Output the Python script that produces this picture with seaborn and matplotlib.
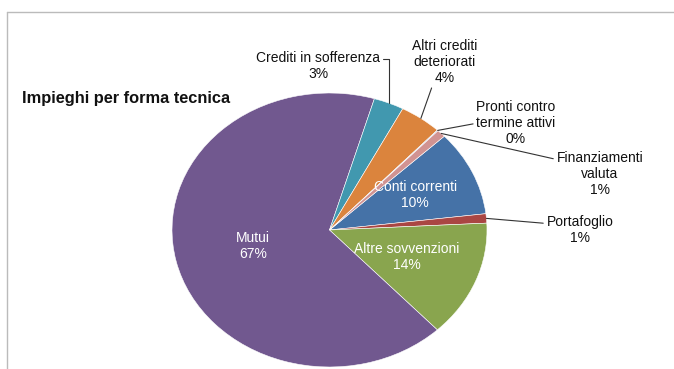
import numpy as np
import matplotlib
matplotlib.use("Agg")
import matplotlib.pyplot as plt
from matplotlib.lines import Line2D
import seaborn as sns

# ---- data ----
categories = ["Conti correnti", "Portafoglio", "Altre sovvenzioni", "Mutui",
              "Crediti in sofferenza", "Altri crediti\ndeteriorati",
              "Pronti contro\ntermine attivi", "Finanziamenti\nvaluta"]
values = [10.1, 1.1, 13.8, 66.6, 3.1, 4.3, 0.1, 0.9]
colors_hex = ["#4572A7", "#AA4643", "#89A54E", "#71588F",
              "#4198AF", "#DB843D", "#93A9CF", "#D19392"]
inside = [True, False, True, True, False, False, False, False]
title = "Impieghi per forma tecnica"

# ---- layout ----
inside_radius = {0: 0.6, 2: 0.53, 3: 0.5}
outside_pos = {
    1: ((1.590, 0.0), (0.0, 0.72), "arc3"),
    4: ((-0.073, 1.197), (1.0, 0.72), "angle,angleA=0,angleB=90,rad=0"),
    5: ((0.733, 1.226), (0.35, 0.15), "arc3"),
    6: ((1.184, 0.781), (0.02, 0.5), "arc3"),
    7: ((1.717, 0.409), (0.0, 0.82), "arc3"),
}

sns.set_theme(style="white")
plt.rcParams["font.family"] = ["Liberation Sans", "DejaVu Sans"]

palette = sns.color_palette(colors_hex)

fig = plt.figure(figsize=(6.74, 3.69), dpi=100)
fig.patch.set_facecolor("white")
ax = fig.add_axes([172/674, 2/369, 315/674, 274/369])

total = sum(values)
wedges, _ = ax.pie(values, colors=palette, startangle=43.2, counterclock=False,
                   wedgeprops=dict(edgecolor="white", linewidth=0.4),
                   radius=1.0)
ax.set_aspect("auto")
ax.set_xlim(-1, 1)
ax.set_ylim(-1, 1)
ax.axis("off")

for i, w in enumerate(wedges):
    pct = int(values[i] / total * 100 + 0.5)
    text = f"{categories[i]}\n{pct}%"
    theta = np.deg2rad((w.theta1 + w.theta2) / 2)
    if inside[i]:
        r = inside_radius[i]
        ax.text(r * np.cos(theta), r * np.sin(theta), text, ha="center", va="center",
                color="white", fontsize=10, linespacing=1.15)
    else:
        (tx, ty), rel, cs = outside_pos[i]
        ax.annotate(text, xy=(np.cos(theta), np.sin(theta)), xytext=(tx, ty),
                    ha="center", va="center", fontsize=10, color="#111111",
                    linespacing=1.15, annotation_clip=False,
                    arrowprops=dict(arrowstyle="-", color="#333333", lw=0.8,
                                    shrinkA=0, shrinkB=0, relpos=rel,
                                    connectionstyle=cs))

fig.text(22/674, 1 - 99/369, title, ha="left", va="center", fontsize=11.8,
         fontweight="bold", color="#111111")

# chart frame
fig.add_artist(Line2D([7/674, 1], [1 - 12/369, 1 - 12/369], color="#BBBBBB", lw=1))
fig.add_artist(Line2D([7/674, 7/674], [0, 1 - 12/369], color="#BBBBBB", lw=1))

fig.savefig("out.png", dpi=100, facecolor="white")
